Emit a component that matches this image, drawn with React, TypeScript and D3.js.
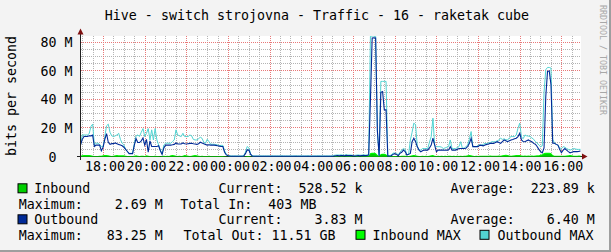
import React, { useEffect } from "react";
import * as d3 from "d3";

// ---- data (5-minute samples, 24 hours, starting 16:54) ----
const START = new Date(2021, 0, 1, 16, 54);
const STEP_MIN = 5;
const HOURS = 24;

// Outbound (average) in Mbit/s
const outbound = [
  8, 12, 14, 14, 14, 14.5, 14.5, 15, 7, 8, 8, 8,
  4, 6.5, 12, 16, 10, 8.5, 9, 9, 9.5, 9, 8.5, 8,
  7.5, 6.5, 5, 3.5, 2, 2, 2, 8, 12.5, 9.8, 9.8, 11,
  13, 8, 12, 3, 11, 7, 7, 7, 7, 7.5, 4, 1.4,
  6, 8, 8, 8, 8, 8.2, 8.5, 9.5, 8.8, 8.8, 8.8, 9.5,
  9, 8.8, 9, 9.2, 9.3, 9, 8.8, 8.5, 9, 10, 9.5, 9,
  8.5, 8, 8.2, 8, 8, 8, 7.8, 7.5, 7.3, 7, 7, 3,
  1.1, 0.5, 0.3, 0.2, 0.2, 0.2, 0.2, 0.2, 0.2, 0.2, 0.3, 2,
  4.6, 4.5, 1.5, 0.3, 0.2, 0.2, 0.2, 0.2, 0.2, 0.2, 0.2, 0.2,
  0.2, 0.2, 0.2, 0.2, 0.2, 0.2, 0.2, 0.2, 0.2, 0.2, 0.2, 0.2,
  0.2, 0.2, 0.2, 0.2, 0.2, 0.2, 0.2, 0.2, 0.2, 0.2, 0.2, 0.2,
  0.2, 0.2, 0.2, 0.2, 0.2, 0.2, 0.2, 0.2, 0.2, 0.2, 0.2, 0.2,
  0.2, 0.2, 0.3, 0.5, 0.6, 0.5, 0.7, 0.6, 0.5, 0.8, 0.6, 0.7,
  0.6, 0.5, 0.4, 0.5, 0.6, 0.5, 0.6, 0.7, 0.6, 0.7, 1, 39.8,
  83.2, 83.25, 83.1, 18, 0.3, 45, 45.6, 32.7, 32.7, 0.3, 0.3, 0.5,
  1.5, 2, 1.5, 0.5, 2.2, 3, 4.5, 3.5, 1, 1.5, 2.2, 10.4,
  12.8, 10.4, 6.8, 4.5, 3.3, 4, 4.5, 4.5, 4.5, 6, 8, 12.8,
  8, 3.3, 4.5, 4.5, 4.6, 4.5, 4.4, 4.5, 4.6, 6.9, 4.5, 4.5,
  4.5, 5, 5.6, 5.6, 5.6, 5.6, 5.8, 7, 9.2, 12.8, 6.9, 6.9,
  6.9, 6.9, 8, 7.8, 7.5, 8, 8.5, 8.8, 9.2, 9.2, 9.2, 9.8,
  10.4, 9.8, 9.2, 10.5, 11.6, 11, 10.4, 11, 11.6, 12, 12.5, 12.8,
  14, 16.3, 11.6, 10.5, 10.4, 11, 11.6, 10.8, 10.4, 9.2, 8.6, 7,
  5, 3.4, 2.6, 6, 42, 59.7, 60, 50.4, 9.3, 9.3, 8.5, 8,
  5, 2.7, 4.5, 5.6, 4.5, 3.4, 2.6, 3, 3.4, 3.4, 3.4, 3.6,
  3.83,
];

// Outbound MAX in Mbit/s
const outboundMax = [
  8.1, 15.1, 15.1, 15.1, 15.1, 16, 21.1, 22.7, 8.1, 9.3, 9.3, 8.5,
  6.9, 6.8, 14, 21.5, 22.7, 17, 14.5, 14, 14.5, 15.1, 16.3, 12,
  9.3, 8.1, 5, 3.6, 2.2, 2.2, 2.2, 9, 14.5, 15.1, 14, 17,
  19.6, 14, 16.3, 19.6, 11.6, 18.7, 11.6, 19.6, 11.6, 8.1, 4.5, 1.7,
  8.1, 9.3, 9.3, 9.3, 9.3, 10.5, 11.6, 18.7, 15.1, 14.5, 14, 16.3,
  14, 14, 14, 15.1, 14.5, 12, 11.6, 11.6, 12.5, 13.5, 12.8, 10,
  9.3, 12.1, 10.4, 8.6, 8.6, 8.6, 8.3, 8.1, 7.6, 7.8, 7.8, 4,
  1.5, 0.8, 0.5, 0.4, 0.4, 0.4, 0.4, 0.4, 0.4, 0.4, 0.5, 3,
  7, 6, 2, 0.5, 0.4, 0.4, 0.4, 0.4, 0.4, 0.4, 0.4, 0.4,
  0.4, 0.4, 0.5, 0.4, 0.4, 0.4, 0.4, 0.4, 0.5, 0.4, 0.4, 0.4,
  0.4, 0.4, 0.4, 0.4, 0.5, 0.4, 0.4, 0.4, 0.4, 0.4, 0.4, 0.5,
  0.4, 0.4, 0.4, 0.4, 0.4, 0.5, 0.4, 0.4, 0.4, 0.4, 0.4, 0.4,
  0.4, 0.5, 0.8, 1, 1.1, 1, 1.2, 1, 0.9, 1.3, 1, 1.1,
  1, 0.9, 0.8, 1, 1.1, 0.9, 1, 1.2, 1, 1.1, 1.2, 84.4,
  84.5, 84.5, 84.4, 18, 0.6, 52.7, 52.7, 52.7, 52.7, 0.6, 0.6, 1,
  2.4, 2.4, 2.4, 1, 3, 4.5, 5.6, 5, 1.2, 1.6, 11.6, 17,
  23.4, 22.3, 7, 5, 4.5, 5.6, 5.6, 5.6, 5.6, 10, 14, 26.9,
  8, 6.9, 6.9, 6.9, 6.5, 5.6, 6, 6.5, 6.9, 11.6, 5.6, 5.6,
  5.6, 6.2, 6.9, 10.4, 5.6, 6, 6.9, 8, 12, 17.5, 6.9, 6.9,
  6.9, 8, 8, 8, 8.5, 9.2, 9, 9.5, 9.8, 10.4, 10.4, 10.4,
  11, 11.6, 12.8, 12, 12.4, 11.8, 11.6, 13, 14, 14, 14, 15,
  19.9, 23.4, 13.6, 12.5, 15.1, 14.5, 14.3, 14, 13, 12.1, 10.5, 9.5,
  8, 6.9, 7.5, 45, 60.9, 62.5, 62.5, 62, 12, 9.5, 8.5, 8,
  6, 5.6, 6.9, 6.5, 5.6, 5, 4.5, 5, 5.6, 5.3, 5, 5,
  5,
];

// Inbound (average) in Mbit/s
const inbound = [
  0.2, 0.4, 0.5, 0.5, 0.5, 0.5, 0.4, 0.2, 0.2, 0.1, 0.2, 0.2,
  0.3, 0.4, 0.5, 0.4, 0.4, 0.2, 0.2, 0.2, 0.4, 0.5, 0.4, 0.3,
  0.4, 0.3, 0.2, 0.2, 0.1, 0.1, 0.2, 0.3, 0.4, 0.2, 0.2, 0.3,
  0.2, 0.2, 0.4, 0.2, 0.2, 0.1, 0.2, 0.2, 0.2, 0.1, 0.1, 0.1,
  0.2, 0.2, 0.2, 0.2, 0.4, 0.5, 0.4, 0.2, 0.2, 0.2, 0.2, 0.3,
  0.5, 0.4, 0.2, 0.2, 0.2, 0.4, 0.5, 0.4, 0.2, 0.2, 0.2, 0.2,
  0.2, 0.1, 0.2, 0.2, 0.1, 0.2, 0.1, 0.2, 0.1, 0.2, 0.1, 0.1,
  0.05, 0.04, 0.04, 0.04, 0.04, 0.04, 0.04, 0.04, 0.04, 0.04, 0.04, 0.08,
  0.12, 0.1, 0.08, 0.04, 0.04, 0.04, 0.04, 0.04, 0.04, 0.04, 0.04, 0.04,
  0.04, 0.04, 0.04, 0.04, 0.04, 0.04, 0.04, 0.04, 0.04, 0.04, 0.04, 0.04,
  0.04, 0.04, 0.04, 0.04, 0.04, 0.04, 0.04, 0.04, 0.04, 0.04, 0.04, 0.04,
  0.04, 0.04, 0.04, 0.04, 0.04, 0.04, 0.04, 0.04, 0.04, 0.04, 0.04, 0.04,
  0.04, 0.04, 0.08, 0.1, 0.1, 0.08, 0.1, 0.1, 0.08, 0.15, 0.1, 0.1,
  0.1, 0.08, 0.08, 0.1, 0.1, 0.08, 0.1, 0.1, 0.1, 0.15, 0.2, 1.5,
  1.8, 1.8, 1.6, 0.6, 0.1, 1.2, 1.4, 1.3, 1.0, 0.1, 0.1, 0.1,
  0.15, 0.15, 0.1, 0.08, 0.15, 0.2, 0.25, 0.2, 0.1, 0.1, 0.2, 0.4,
  0.5, 0.4, 0.2, 0.15, 0.15, 0.2, 0.15, 0.2, 0.15, 0.2, 0.35, 0.5,
  0.25, 0.15, 0.2, 0.15, 0.2, 0.15, 0.2, 0.15, 0.2, 0.25, 0.15, 0.2,
  0.15, 0.2, 0.15, 0.2, 0.15, 0.2, 0.25, 0.4, 0.5, 0.4, 0.2, 0.15,
  0.2, 0.15, 0.2, 0.25, 0.2, 0.25, 0.2, 0.25, 0.3, 0.25, 0.2, 0.25,
  0.25, 0.3, 0.25, 0.4, 0.5, 0.55, 0.45, 0.3, 0.25, 0.3, 0.4, 0.45,
  0.5, 0.45, 0.3, 0.25, 0.3, 0.25, 0.3, 0.25, 0.3, 0.25, 0.3, 0.35,
  0.4, 0.6, 0.8, 1.5, 1.8, 1.9, 1.8, 1.5, 0.5, 0.25, 0.2, 0.25,
  0.2, 0.25, 0.2, 0.25, 0.3, 0.4, 0.45, 0.4, 0.25, 0.2, 0.3, 0.4,
  0.53,
];

// Inbound MAX in Mbit/s
const inboundMax = [
  0.5, 0.9, 1.0, 1.0, 1.1, 1.0, 0.9, 0.5, 0.4, 0.3, 0.4, 0.5,
  0.6, 0.9, 1.0, 1.0, 0.9, 0.5, 0.4, 0.5, 0.9, 1.0, 0.9, 0.8,
  0.9, 0.8, 0.5, 0.4, 0.3, 0.3, 0.4, 0.6, 0.9, 0.5, 0.4, 0.6,
  0.5, 0.4, 0.9, 0.5, 0.4, 0.3, 0.4, 0.5, 0.4, 0.3, 0.2, 0.3,
  0.5, 0.4, 0.5, 0.4, 0.9, 1.0, 0.9, 0.5, 0.4, 0.5, 0.4, 0.6,
  1.0, 0.9, 0.5, 0.4, 0.5, 0.9, 1.0, 0.9, 0.5, 0.4, 0.5, 0.4,
  0.4, 0.3, 0.5, 0.4, 0.3, 0.4, 0.3, 0.4, 0.3, 0.4, 0.3, 0.2,
  0.15, 0.1, 0.1, 0.1, 0.1, 0.1, 0.1, 0.1, 0.1, 0.1, 0.1, 0.2,
  0.3, 0.3, 0.2, 0.1, 0.1, 0.1, 0.1, 0.1, 0.1, 0.1, 0.1, 0.1,
  0.1, 0.1, 0.1, 0.1, 0.1, 0.1, 0.1, 0.1, 0.1, 0.1, 0.1, 0.1,
  0.1, 0.1, 0.1, 0.1, 0.1, 0.1, 0.1, 0.1, 0.1, 0.1, 0.1, 0.1,
  0.1, 0.1, 0.1, 0.1, 0.1, 0.1, 0.1, 0.1, 0.1, 0.1, 0.1, 0.1,
  0.1, 0.1, 0.2, 0.3, 0.3, 0.2, 0.3, 0.3, 0.2, 0.4, 0.3, 0.3,
  0.3, 0.2, 0.2, 0.3, 0.3, 0.2, 0.3, 0.3, 0.3, 0.4, 0.5, 2.4,
  2.6, 2.6, 2.5, 1.2, 0.3, 1.8, 2.0, 2.0, 1.6, 0.3, 0.3, 0.3,
  0.4, 0.4, 0.3, 0.2, 0.4, 0.5, 0.6, 0.5, 0.3, 0.3, 0.5, 0.9,
  1.0, 0.9, 0.5, 0.4, 0.4, 0.5, 0.4, 0.5, 0.4, 0.5, 0.8, 1.0,
  0.6, 0.4, 0.5, 0.4, 0.5, 0.4, 0.5, 0.4, 0.5, 0.6, 0.4, 0.5,
  0.4, 0.5, 0.4, 0.5, 0.4, 0.5, 0.6, 0.9, 1.0, 0.9, 0.5, 0.4,
  0.5, 0.4, 0.5, 0.6, 0.5, 0.6, 0.5, 0.6, 0.7, 0.6, 0.5, 0.6,
  0.6, 0.7, 0.6, 0.9, 1.1, 1.2, 1.0, 0.7, 0.6, 0.7, 0.9, 1.0,
  1.1, 1.0, 0.7, 0.6, 0.7, 0.6, 0.7, 0.6, 0.7, 0.6, 0.7, 0.8,
  0.9, 1.2, 1.5, 2.4, 2.6, 2.69, 2.6, 2.5, 1.0, 0.6, 0.5, 0.6,
  0.5, 0.6, 0.5, 0.6, 0.7, 0.9, 1.0, 0.9, 0.6, 0.5, 0.6, 0.7,
  0.6,
];

const yTicks = [0, 20, 40, 60, 80];
const yTickLabels = ["0  ", "20 M", "40 M", "60 M", "80 M"];
const yMinorStep = 5;
const Y_MAX = 84.2;

const TITLE = "Hive - switch strojovna - Traffic - 16 - raketak cube";
const Y_TITLE = "bits per second";
const WATERMARK = "RRDTOOL / TOBI OETIKER";

const legendRows = [
  "Current:  528.52 k",
  "Average:  223.89 k",
  "Maximum:    2.69 M",
  "Total In:  403 MB",
  "Current:    3.83 M",
  "Average:    6.40 M",
  "Maximum:   83.25 M",
  "Total Out: 11.51 GB",
];
const seriesNames = ["Inbound", "Outbound", "Inbound MAX", "Outbound MAX"];

const C_IN = "#00CF00";
const C_IN_MAX = "#00FF00";
const C_OUT = "#002A97";
const C_OUT_MAX = "#52D4D2";

const FONT = "'DejaVu Sans Mono', monospace";

export default function App() {
  useEffect(() => {
    document.body.style.margin = "0";
  }, []);

  const end = d3.timeHour.offset(START, HOURS);
  const x = d3.scaleTime().domain([START, end]).range([80.5, 580.5]);
  const y = d3.scaleLinear().domain([0, Y_MAX]).range([156.5, 36.5]);
  const times = outbound.map((_, i) => d3.timeMinute.offset(START, i * STEP_MIN));

  const crisp = (v: number) => Math.round(v - 0.5) + 0.5;

  const majorX = d3.timeHour.every(2)!.range(START, end);
  const minorX = d3
    .timeMinute.every(30)!
    .range(START, end)
    .filter((t) => !(t.getMinutes() === 0 && t.getHours() % 2 === 0));
  const minorY = d3.range(yMinorStep, Y_MAX, yMinorStep).filter((v) => v % 20 !== 0);
  const majorY = yTicks.filter((v) => v > 0);

  const line = (vals: number[]) =>
    d3
      .line<number>()
      .x((_, i) => x(times[i]))
      .y((d) => y(d))(vals) || "";
  const area = (vals: number[]) =>
    d3
      .area<number>()
      .x((_, i) => x(times[i]))
      .y0(y(0))
      .y1((d) => y(d))(vals) || "";

  const fmt = d3.timeFormat("%H:%M");
  const plotTop = 36;
  const plotBottom = 156;

  const rowY = [193.3, 208.8, 224.3, 239.8];
  const box = (bx: number, by: number, color: string) => (
    <rect x={bx + 0.5} y={by - 9.5} width={9} height={9} fill={color} stroke="#000" strokeWidth={1} />
  );
  const txt = (tx: number, ty: number, s: string, anchor: string = "start") => (
    <text x={tx} y={ty} textAnchor={anchor} xmlSpace="preserve" style={{ whiteSpace: "pre" }}>
      {s}
    </text>
  );

  return (
    <svg
      width={611}
      height={252}
      style={{ position: "absolute", left: 0, top: 0, display: "block" }}
      fontFamily={FONT}
      fontSize={13.3}
    >
      <defs>
        <clipPath id="plotclip">
          <rect x={81} y={plotTop} width={500} height={plotBottom - plotTop + 1} />
        </clipPath>
      </defs>
      <rect x={0} y={0} width={611} height={252} fill="#F3F3F3" />
      <rect x={609} y={0} width={2} height={252} fill="#9E9E9E" />
      <rect x={0} y={250} width={611} height={2} fill="#9E9E9E" />

      <text x={317} y={19.5} textAnchor="middle" xmlSpace="preserve" style={{ whiteSpace: "pre" }}>
        {TITLE}
      </text>

      <rect x={81} y={plotTop} width={500} height={plotBottom - plotTop} fill="#FFFFFF" />

      {/* minor grid */}
      <g stroke="#B4B4B4" strokeWidth={1} strokeDasharray="1,1" shapeRendering="crispEdges">
        {minorX.map((t, i) => (
          <line key={"mx" + i} x1={crisp(x(t))} x2={crisp(x(t))} y1={plotTop} y2={plotBottom} />
        ))}
        {minorY.map((v, i) => (
          <line key={"my" + i} x1={81} x2={581} y1={crisp(y(v))} y2={crisp(y(v))} />
        ))}
      </g>
      {/* major grid */}
      <g stroke="#E87878" strokeWidth={1} strokeDasharray="1,1" shapeRendering="crispEdges">
        {majorX.map((t, i) => (
          <line key={"Mx" + i} x1={crisp(x(t))} x2={crisp(x(t))} y1={plotTop} y2={plotBottom} />
        ))}
        {majorY.map((v, i) => (
          <line key={"My" + i} x1={81} x2={581} y1={crisp(y(v))} y2={crisp(y(v))} />
        ))}
      </g>

      {/* axes */}
      <line x1={77} x2={582} y1={156.5} y2={156.5} stroke="#202020" strokeWidth={1} />
      <line x1={80.5} x2={80.5} y1={160} y2={34} stroke="#202020" strokeWidth={1} />

      <g clipPath="url(#plotclip)">
        <path d={area(inboundMax)} fill={C_IN_MAX} />
        <path d={area(inbound)} fill={C_IN} />
        <path d={line(outboundMax)} fill="none" stroke={C_OUT_MAX} strokeWidth={1} />
        <path d={line(outbound)} fill="none" stroke={C_OUT} strokeWidth={1.1} />
      </g>

      {/* arrows */}
      <polygon points="582,153.5 587.5,156.5 582,159.5" fill="#7F1010" />
      <polygon points="77.5,34.5 80.5,28.5 83.5,34.5" fill="#7F1010" />

      {/* x labels */}
      {majorX.map((t, i) => (
        <text key={"xl" + i} x={x(t) + 1.5} y={171} textAnchor="middle">
          {fmt(t)}
        </text>
      ))}
      {/* y labels */}
      {yTicks.map((v, i) => (
        <text
          key={"yl" + i}
          x={72.5}
          y={y(v) + 5}
          textAnchor="end"
          xmlSpace="preserve"
          style={{ whiteSpace: "pre" }}
        >
          {yTickLabels[i]}
        </text>
      ))}

      <text transform="translate(15.5,96) rotate(-90)" textAnchor="middle">
        {Y_TITLE}
      </text>

      <text transform="translate(600,5) rotate(90)" fontSize={8.3} fill="#A8A8A8">
        {WATERMARK}
      </text>

      {/* legend */}
      {box(17.5, rowY[0], C_IN)}
      {txt(34.3, rowY[0], seriesNames[0])}
      {txt(218.5, rowY[0], legendRows[0])}
      {txt(450.6, rowY[0], legendRows[1])}

      {txt(18.7, rowY[1], legendRows[2])}
      {txt(180.3, rowY[1], legendRows[3])}

      {box(17.5, rowY[2], C_OUT)}
      {txt(34.3, rowY[2], seriesNames[1])}
      {txt(218.5, rowY[2], legendRows[4])}
      {txt(450.6, rowY[2], legendRows[5])}

      {txt(18.7, rowY[3], legendRows[6])}
      {txt(183.4, rowY[3], legendRows[7])}
      {box(355.5, rowY[3], C_IN_MAX)}
      {txt(372.6, rowY[3], seriesNames[2])}
      {box(479.5, rowY[3], C_OUT_MAX)}
      {txt(497.5, rowY[3], seriesNames[3])}
    </svg>
  );
}
